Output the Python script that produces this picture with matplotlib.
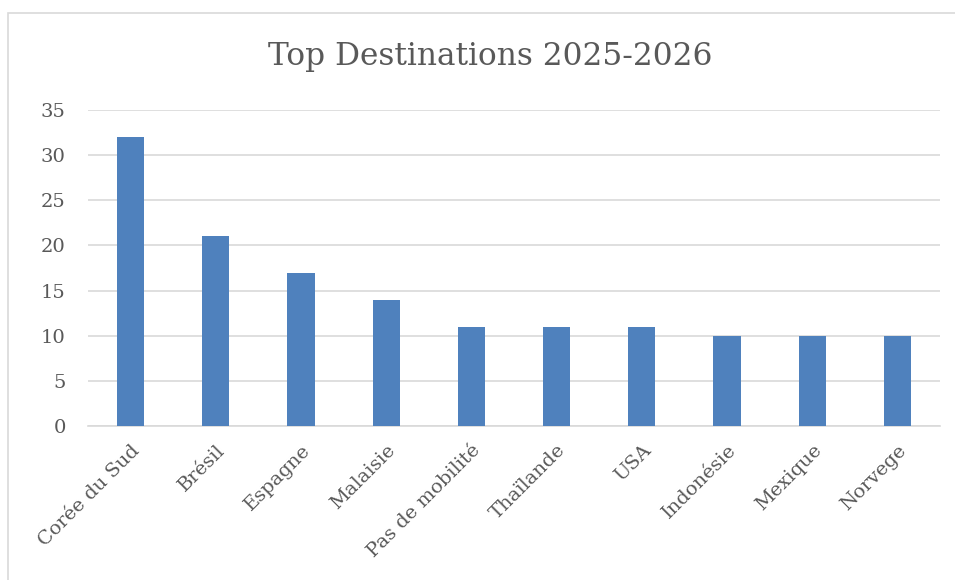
import matplotlib
matplotlib.use("Agg")
import matplotlib.pyplot as plt
from matplotlib.patches import Rectangle

categories = ["Corée du Sud", "Brésil", "Espagne", "Malaisie", "Pas de mobilité",
              "Thaïlande", "USA", "Indonésie", "Mexique", "Norvege"]
values = [32, 21, 17, 14, 11, 11, 11, 10, 10, 10]
yticks = [0, 5, 10, 15, 20, 25, 30, 35]

TEXT = "#595959"
GRID = "#D9D9D9"
BAR = "#4F81BD"

plt.rcParams['font.family'] = ['DejaVu Serif']

fig = plt.figure(figsize=(9.55, 5.8), dpi=100)
fig.patches.append(Rectangle((8 / 955, -0.01), 1.0, 1.01 - 13 / 580, transform=fig.transFigure,
                             fill=False, edgecolor=GRID, linewidth=1.2))

ax = fig.add_axes([88 / 955, (580 - 426) / 580, (940 - 88) / 955, (426 - 110) / 580])
x = list(range(len(categories)))
ax.bar(x, values, width=0.32, color=BAR, zorder=3)
ax.set_xlim(-0.5, len(categories) - 0.5)
ax.set_ylim(0, 35)
ax.set_yticks(yticks)
ax.set_yticklabels([str(v) for v in yticks], fontsize=14, color=TEXT)
ax.set_xticks(x)
ax.set_xticklabels(categories, rotation=45, ha="right", va="top", rotation_mode="anchor",
                   fontsize=14, color=TEXT)
ax.tick_params(axis="both", length=0)
ax.tick_params(axis="y", pad=16)
ax.tick_params(axis="x", pad=11)
ax.grid(axis="y", color=GRID, linewidth=1.2, zorder=0)
for s in ["top", "right", "left"]:
    ax.spines[s].set_visible(False)
ax.spines["bottom"].set_color(GRID)
ax.spines["bottom"].set_linewidth(1.2)

fig.text(490 / 955, 1 - 57 / 580, "Top Destinations 2025-2026", ha="center", va="center",
         fontsize=22.5, color=TEXT)

fig.savefig("out.png", dpi=100)
